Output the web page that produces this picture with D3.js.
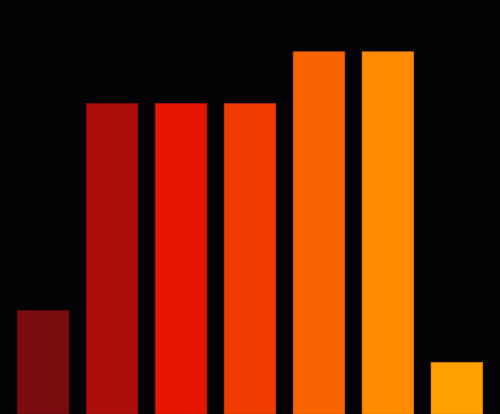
<!DOCTYPE html>
<html>
<head>
<meta charset="utf-8">
<script src="https://cdn.jsdelivr.net/npm/d3@7"></script>
<style>
    html, body { margin: 0; padding: 0; background: #030305; overflow: hidden; }
    svg { display: block; }
</style>
</head>
<body>
<script>
const categories = ['A', 'B', 'C', 'D', 'E', 'F', 'G']
const values = [2, 6, 6, 6, 7, 7, 1]
const colors = ['#7a0c0f', '#ab0f08', '#e51500', '#f03c00', '#f86400', '#ff8c00', '#ffa000']

const layout = { width: 500, height: 414 }

const x = d3.scaleBand()
    .domain(categories)
    .range([0, layout.width])
    .paddingInner(0.25)
    .paddingOuter(0.25)

const y = d3.scaleLinear()
    .domain([0, 8])
    .range([layout.height, 0])

const svg = d3.select('body')
    .append('svg')
    .attr('width', layout.width)
    .attr('height', layout.height)
    .attr('viewBox', `0 0 ${layout.width} ${layout.height}`)

svg.append('rect')
    .attr('width', layout.width)
    .attr('height', layout.height)
    .style('fill', '#030305')

svg.selectAll('rect.bar')
    .data(categories)
    .enter()
    .append('rect')
    .attr('class', 'bar')
    .attr('x', d => x(d))
    .attr('y', (d, i) => y(values[i]))
    .attr('width', x.bandwidth())
    .attr('height', (d, i) => layout.height - y(values[i]))
    .style('fill', (d, i) => colors[i])
    .style('stroke', (d, i) => d3.color(colors[i]).darker(0.6))
    .style('stroke-width', 0.6)
</script>
</body>
</html>
